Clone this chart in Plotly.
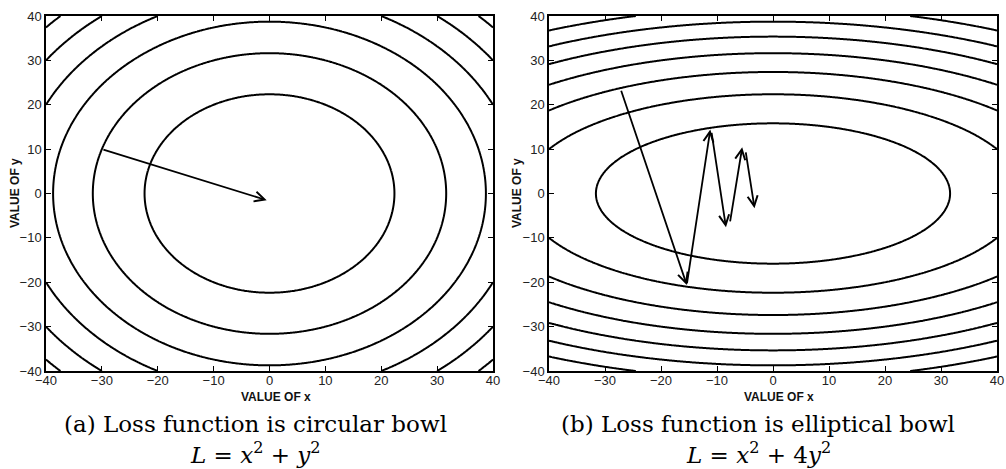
import numpy as np
import plotly.graph_objects as go

# grid / tick values
tick_vals = [-40, -30, -20, -10, 0, 10, 20, 30, 40]
grid = np.linspace(-40, 40, 321)

# contour levels
levels_a = dict(start=500, end=3000, size=500)
levels_b = dict(start=1000, end=7000, size=1000)

# gradient-descent arrows (tail x, tail y, tip x, tip y)
arrow_a_tail_x = [-30]
arrow_a_tail_y = [10]
arrow_a_tip_x = [-0.5]
arrow_a_tip_y = [-1.5]

arrow_b_tail_x = [-27.2, -15.4, -11.0, -7.7, -4.9]
arrow_b_tail_y = [23.5, -20.6, 14.0, -6.6, 9.6]
arrow_b_tip_x = [-15.4, -11.2, -8.4, -5.5, -3.3]
arrow_b_tip_y = [-20.6, 14.4, -7.6, 10.4, -3.3]

captions = ["(a) Loss function is circular bowl", "(b) Loss function is elliptical bowl"]
formulas = ["<i>L</i> = <i>x</i><sup>2</sup> + <i>y</i><sup>2</sup>",
            "<i>L</i> = <i>x</i><sup>2</sup> + 4<i>y</i><sup>2</sup>"]

X, Y = np.meshgrid(grid, grid)
Z_a = X**2 + Y**2
Z_b = X**2 + 4 * Y**2

fig = go.Figure()
black = [[0, "black"], [1, "black"]]
fig.add_trace(go.Contour(x=grid, y=grid, z=Z_a, xaxis="x", yaxis="y",
                         contours=dict(coloring="lines", **levels_a),
                         line=dict(color="black", width=2), colorscale=black,
                         showscale=False, hoverinfo="skip"))
fig.add_trace(go.Contour(x=grid, y=grid, z=Z_b, xaxis="x2", yaxis="y2",
                         contours=dict(coloring="lines", **levels_b),
                         line=dict(color="black", width=2), colorscale=black,
                         showscale=False, hoverinfo="skip"))

W, H = 1006, 469
ax_common = dict(range=[-40, 40], tickvals=tick_vals, ticks="inside", ticklen=5,
                 tickcolor="black", showline=True, linecolor="black", linewidth=1.5,
                 mirror="ticks", showgrid=False, zeroline=False, automargin=False,
                 tickfont=dict(family="Liberation Sans", size=13, color="#222"))
y_dom = [1 - 371 / H, 1 - 16 / H]
fig.update_layout(
    template="none",
    xaxis=dict(domain=[46 / W, 493 / W], anchor="y", ticklabelstandoff=-3, **ax_common),
    yaxis=dict(domain=y_dom, anchor="x", ticklabelstandoff=0, **ax_common),
    xaxis2=dict(domain=[549 / W, 997 / W], anchor="y2", ticklabelstandoff=-3, **ax_common),
    yaxis2=dict(domain=y_dom, anchor="x2", ticklabelstandoff=0, **ax_common),
    width=W, height=H, margin=dict(l=0, r=0, t=0, b=0, pad=0),
    plot_bgcolor="white", paper_bgcolor="white", showlegend=False,
)

ann = []
def add_arrows(txs, tys, hxs, hys, xr, yr):
    for tx, ty, hx, hy in zip(txs, tys, hxs, hys):
        ann.append(dict(x=hx, y=hy, ax=tx, ay=ty, xref=xr, yref=yr, axref=xr, ayref=yr,
                        showarrow=True, arrowhead=5, arrowsize=1.1, arrowwidth=1.8,
                        arrowcolor="black", text="", standoff=0))

add_arrows(arrow_a_tail_x, arrow_a_tail_y, arrow_a_tip_x, arrow_a_tip_y, "x", "y")
add_arrows(arrow_b_tail_x, arrow_b_tail_y, arrow_b_tip_x, arrow_b_tip_y, "x2", "y2")

title_font = dict(family="Liberation Sans", size=12, color="#111")
for cx, yx in [(276, 15), (779, 517)]:
    ann.append(dict(x=cx / W, y=1 - 397 / H, xref="paper", yref="paper", showarrow=False,
                    text="<b>VALUE OF x</b>", font=title_font, xanchor="center", yanchor="middle"))
    ann.append(dict(x=yx / W, y=1 - 193 / H, xref="paper", yref="paper", showarrow=False,
                    text="<b>VALUE OF y</b>", font=title_font, textangle=-90,
                    xanchor="center", yanchor="middle"))

cap_font = dict(family="DejaVu Serif", size=23, color="black")
for cx, cap, form in zip([255, 758], captions, formulas):
    ann.append(dict(x=cx / W, y=1 - 424 / H, xref="paper", yref="paper", showarrow=False,
                    text=cap, font=cap_font, xanchor="center", yanchor="middle"))
    ann.append(dict(x=cx / W, y=1 - 453 / H, xref="paper", yref="paper", showarrow=False,
                    text=form, font=cap_font, xanchor="center", yanchor="middle"))

fig.update_layout(annotations=ann)
fig.write_html("out.html", config={"displayModeBar": False},
               post_script="document.body.style.margin='0px';")
